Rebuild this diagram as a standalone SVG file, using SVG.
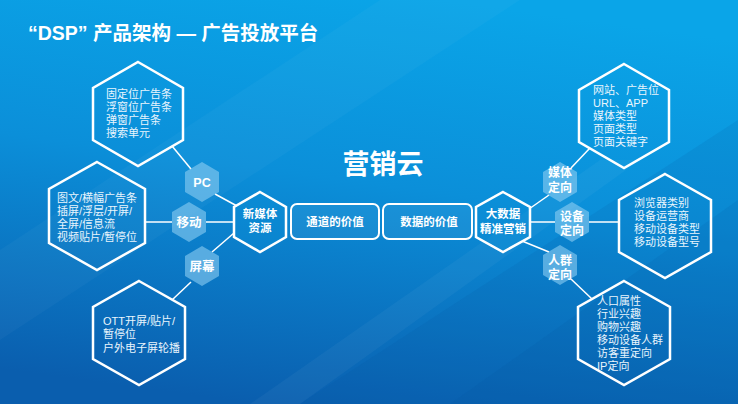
<svg xmlns="http://www.w3.org/2000/svg" width="738" height="404" viewBox="0 0 738 404">
<defs>
<linearGradient id="bg" x1="0.6" y1="0" x2="0.35" y2="1">
<stop offset="0" stop-color="#0aa5e8"/>
<stop offset="0.45" stop-color="#0b8fd9"/>
<stop offset="1" stop-color="#0a5eae"/>
</linearGradient>
<style>
.big{fill:none;stroke:#fff;stroke-width:2.5;stroke-linejoin:miter}
.mid{fill:#0c8fd8;fill-opacity:0.35;stroke:#fff;stroke-width:2.5}
.sm{fill:#8ccdf2;fill-opacity:0.6;stroke:none}
.t{font-family:"Liberation Sans","Noto Sans CJK SC",sans-serif;font-size:11px;fill:#e9f5fd}
.b{font-family:"Liberation Sans","Noto Sans CJK SC",sans-serif;font-weight:bold;fill:#fff;text-anchor:middle}
.box{fill:#fff;fill-opacity:0.06;stroke:#fff;stroke-width:2}
.ln{stroke:#fff;stroke-width:1.5;fill:none}
</style>
</defs>
<rect width="738" height="404" fill="url(#bg)"/>
<polygon points="300,404 738,120 738,404" fill="#0a4f9e" fill-opacity="0.12"/>
<polygon points="450,404 738,200 738,404" fill="#0a4f9e" fill-opacity="0.12"/>
<polygon points="0,250 380,0 520,0 0,340" fill="#ffffff" fill-opacity="0.03"/>
<polygon points="250,404 600,160 640,160 300,404" fill="#ffffff" fill-opacity="0.04"/>

<text x="28" y="40" font-family="'Liberation Sans','Noto Sans CJK SC',sans-serif" font-size="19.5" font-weight="bold" fill="#fff">“DSP” 产品架构 — 广告投放平台</text>

<g id="connectors">
<line class="ln" x1="172" y1="146" x2="191" y2="169"/>
<line class="ln" x1="215" y1="194" x2="237" y2="206"/>
<line class="ln" x1="145" y1="222" x2="172" y2="222"/>
<line class="ln" x1="206" y1="222" x2="234" y2="222"/>
<line class="ln" x1="234" y1="233" x2="212" y2="252"/>
<line class="ln" x1="191" y1="282" x2="172" y2="300"/>
<line class="ln" x1="529" y1="209" x2="549" y2="195"/>
<line class="ln" x1="571" y1="168" x2="590" y2="148"/>
<line class="ln" x1="530" y1="222" x2="555" y2="222"/>
<line class="ln" x1="589" y1="222" x2="619" y2="222"/>
<line class="ln" x1="522" y1="241" x2="549" y2="252"/>
<line class="ln" x1="571" y1="279" x2="592" y2="299"/>
</g>

<g id="hex-pc-ad">
<polygon class="big" points="138,62 183,88 183,140 138,166 93,140 93,88"/>
<text class="t"><tspan x="106" y="98">固定位广告条</tspan><tspan x="106" y="111">浮窗位广告条</tspan><tspan x="106" y="124">弹窗广告条</tspan><tspan x="106" y="137">搜索单元</tspan></text>
</g>

<g id="hex-mobile-ad">
<polygon class="big" points="97,162 145,189 145,243 97,270 49,243 49,189"/>
<text class="t"><tspan x="57" y="202">图文/横幅广告条</tspan><tspan x="57" y="215">插屏/浮层/开屏/</tspan><tspan x="57" y="228">全屏/信息流</tspan><tspan x="57" y="241">视频贴片/暂停位</tspan></text>
</g>

<g id="hex-screen-ad">
<polygon class="big" points="139,281 185,307 185,359 139,385 93,359 93,307"/>
<text class="t"><tspan x="103" y="325">OTT开屏/贴片/</tspan><tspan x="103" y="338">暂停位</tspan><tspan x="103" y="352">户外电子屏轮播</tspan></text>
</g>

<g id="hex-pc">
<polygon class="sm" points="202,162 219,172 219,192 202,202 185,192 185,172"/>
<text class="b" x="202" y="187" font-size="12.5">PC</text>
</g>
<g id="hex-mobile">
<polygon class="sm" points="189,202 206,212 206,232 189,242 172,232 172,212"/>
<text class="b" x="189" y="227" font-size="12.5">移动</text>
</g>
<g id="hex-screen">
<polygon class="sm" points="202,246 219,256 219,276 202,286 185,276 185,256"/>
<text class="b" x="202" y="271" font-size="12.5">屏幕</text>
</g>

<g id="hex-new-media">
<polygon class="mid" points="260,192 286,207 286,237 260,252 234,237 234,207"/>
<text class="b" font-size="11.5"><tspan x="260" y="218">新媒体</tspan><tspan x="260" y="232">资源</tspan></text>
</g>

<g id="title-cloud">
<text class="b" x="383" y="174" font-size="27">营销云</text>
</g>

<g id="box-channel">
<rect class="box" x="291" y="204" width="88" height="35" rx="6"/>
<text class="b" x="335" y="226" font-size="11.5">通道的价值</text>
</g>
<g id="box-data">
<rect class="box" x="383" y="204" width="89" height="35" rx="6"/>
<text class="b" x="429" y="226" font-size="11.5">数据的价值</text>
</g>

<g id="hex-bigdata">
<polygon class="mid" points="503,192 530,207 530,237 503,252 476,237 476,207"/>
<text class="b" font-size="11.5"><tspan x="503" y="218">大数据</tspan><tspan x="503" y="233">精准营销</tspan></text>
</g>

<g id="hex-media-target">
<polygon class="sm" points="560,162 577,172 577,192 560,202 543,192 543,172"/>
<text class="b" font-size="12"><tspan x="560" y="177">媒体</tspan><tspan x="560" y="192">定向</tspan></text>
</g>
<g id="hex-device-target">
<polygon class="sm" points="572,202 589,212 589,232 572,242 555,232 555,212"/>
<text class="b" font-size="12"><tspan x="572" y="221">设备</tspan><tspan x="572" y="235">定向</tspan></text>
</g>
<g id="hex-crowd-target">
<polygon class="sm" points="560,245 577,255 577,275 560,285 543,275 543,255"/>
<text class="b" font-size="12"><tspan x="560" y="265">人群</tspan><tspan x="560" y="279">定向</tspan></text>
</g>

<g id="hex-media-detail">
<polygon class="big" points="624,64 669,90 669,142 624,168 579,142 579,90"/>
<text class="t"><tspan x="593" y="94">网站、广告位</tspan><tspan x="593" y="107">URL、APP</tspan><tspan x="593" y="120">媒体类型</tspan><tspan x="593" y="133">页面类型</tspan><tspan x="593" y="146">页面关键字</tspan></text>
</g>

<g id="hex-device-detail">
<polygon class="big" points="665,174 711,200 711,252 665,278 619,252 619,200"/>
<text class="t"><tspan x="634" y="207">浏览器类别</tspan><tspan x="634" y="220">设备运营商</tspan><tspan x="634" y="233">移动设备类型</tspan><tspan x="634" y="246">移动设备型号</tspan></text>
</g>

<g id="hex-crowd-detail">
<polygon class="big" points="624,281 670,307 670,359 624,385 578,359 578,307"/>
<text class="t"><tspan x="597" y="305">人口属性</tspan><tspan x="597" y="318">行业兴趣</tspan><tspan x="597" y="331">购物兴趣</tspan><tspan x="597" y="344">移动设备人群</tspan><tspan x="597" y="357">访客重定向</tspan><tspan x="597" y="370">IP定向</tspan></text>
</g>
</svg>
